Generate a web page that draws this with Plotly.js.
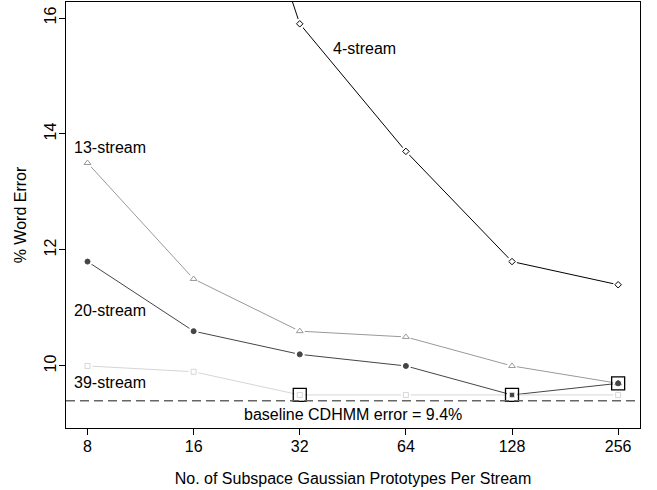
<!DOCTYPE html>
<html>
<head>
<meta charset="utf-8">
<script src="https://cdn.plot.ly/plotly-3.0.1.min.js"></script>
<style>html,body{margin:0;padding:0;background:#fff;}#chart{width:657px;height:490px;}</style>
</head>
<body>
<div id="chart"></div>
<script>
// Data
const prototypes = [8, 16, 32, 64, 128, 256];
const stream4  = [26.0, 21.4, 15.9, 13.7, 11.8, 11.4];
const stream13 = [13.5, 11.5, 10.6, 10.5, 10.0, 9.7];
const stream20 = [11.8, 10.6, 10.2, 10.0, 9.5, 9.7];
const stream39 = [10.0, 9.9, 9.5, 9.5, 9.5, 9.5];
const bestX = [32, 128, 256];
const bestY = [9.5, 9.5, 9.7];
const baseline = 9.4;
const seriesLabels = ['4-stream', '13-stream', '20-stream', '39-stream'];
const baselineLabel = 'baseline CDHMM error = 9.4%';
const xTicks = [8, 16, 32, 64, 128, 256];
const yTicks = [10, 12, 14, 16];

const FONT = 'Liberation Sans, Arial, Helvetica, sans-serif';
const series = [
  {y: stream4,  color: '#000000', symbol: 'diamond-open',     size: 5, fill: null},
  {y: stream13, color: '#999999', symbol: 'triangle-up-open', size: 6, fill: null},
  {y: stream20, color: '#454545', symbol: 'circle',           size: 5, fill: '#454545'},
  {y: stream39, color: '#d6d6d6', symbol: 'square-open',      size: 5, fill: null}
];

const traces = [];
series.forEach(s => {
  traces.push({x: prototypes, y: s.y, type: 'scatter', mode: 'lines',
    line: {color: s.color, width: 1}, hoverinfo: 'skip', showlegend: false, cliponaxis: true});
});
series.forEach(s => {
  traces.push({x: prototypes, y: s.y, type: 'scatter', mode: 'markers',
    marker: {symbol: 'circle', size: 10, color: '#ffffff', line: {width: 0}},
    hoverinfo: 'skip', showlegend: false});
});
series.forEach(s => {
  traces.push({x: prototypes, y: s.y, type: 'scatter', mode: 'markers',
    marker: {symbol: s.symbol, size: s.size, color: s.fill || s.color,
      line: {color: s.color, width: 1}},
    showlegend: false});
});
traces.push({x: bestX, y: bestY, type: 'scatter', mode: 'markers',
  marker: {symbol: 'square-open', size: 13, color: '#000000', line: {color: '#000000', width: 1.3}},
  showlegend: false});

const labelPos = [
  {x: 0.462, y: 15.48},
  {x: 0.010, y: 13.76},
  {x: 0.010, y: 10.96},
  {x: 0.010, y: 9.71}
];
const annotations = seriesLabels.map((t, i) => ({
  text: t, xref: 'paper', yref: 'y', x: labelPos[i].x, y: labelPos[i].y,
  xanchor: 'left', yanchor: 'middle', showarrow: false,
  font: {family: FONT, size: 16, color: '#000'}
}));
annotations.push({text: baselineLabel, xref: 'paper', yref: 'y', x: 0.5, y: 9.17,
  xanchor: 'center', yanchor: 'middle', showarrow: false,
  font: {family: FONT, size: 16, color: '#000'}});

const layout = {
  width: 657, height: 490,
  margin: {l: 66, r: 17, t: 2, b: 62},
  paper_bgcolor: '#ffffff', plot_bgcolor: '#ffffff',
  font: {family: FONT, size: 16, color: '#000'},
  xaxis: {
    type: 'log',
    range: [Math.log10(8) - 0.061, Math.log10(256) + 0.062],
    tickvals: xTicks, ticktext: xTicks.map(String),
    ticks: 'outside', ticklen: 6, tickwidth: 1, tickcolor: '#000',
    showline: true, linecolor: '#000', linewidth: 1.3, mirror: true,
    showgrid: false, zeroline: false,
    tickfont: {family: FONT, size: 16},
    ticklabelstandoff: -3,
    title: {text: 'No. of Subspace Gaussian Prototypes Per Stream', font: {family: FONT, size: 16}, standoff: 19}
  },
  yaxis: {
    range: [8.93, 16.276],
    tickvals: yTicks, ticktext: yTicks.map(String), tickangle: -90,
    ticks: 'outside', ticklen: 6, tickwidth: 1, tickcolor: '#000',
    showline: true, linecolor: '#000', linewidth: 1.3, mirror: true,
    showgrid: false, zeroline: false,
    tickfont: {family: FONT, size: 16},
    ticklabelstandoff: -4,
    title: {text: '% Word Error', font: {family: FONT, size: 16}, standoff: 11}
  },
  shapes: [{type: 'line', xref: 'paper', x0: 0, x1: 1, yref: 'y', y0: baseline, y1: baseline,
    line: {color: '#666666', width: 1.6, dash: '9px,5px'}, layer: 'above'}],
  annotations: annotations
};

Plotly.newPlot('chart', traces, layout, {displayModeBar: false, staticPlot: true});
</script>
</body>
</html>
